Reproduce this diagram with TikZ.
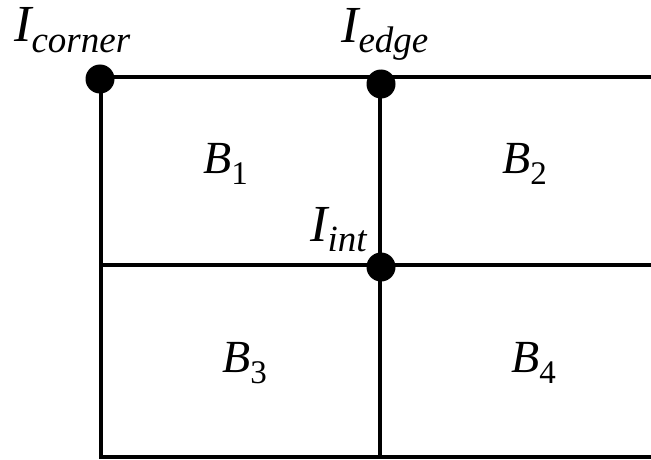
\documentclass[tikz,border=0pt]{standalone}
\usepackage{fontspec}
\setmainfont{Liberation Serif}
\usetikzlibrary{positioning}

\newcommand{\Ilbl}[1]{{\fontsize{52}{52}\selectfont\itshape I}\raisebox{-10pt}{\fontsize{37}{37}\selectfont\itshape #1}}
\newcommand{\Blbl}[1]{{\fontsize{46}{46}\selectfont\itshape B}\raisebox{-11pt}{\fontsize{33}{33}\selectfont #1}}

\begin{document}
\begin{tikzpicture}[
    x=1pt, y=-1pt,
    grid/.style={line width=4.5pt},
    dot/.style={circle, fill=black, inner sep=0pt, minimum size=29pt},
    lbl/.style={inner sep=0pt, anchor=base west}
]
    \useasboundingbox (0,0) rectangle (651,460);
    % grid corners
    \coordinate (tl) at (101,77);
    \coordinate (tm) at (380,77);
    \coordinate (tr) at (653,77);
    \coordinate (ml) at (101,265);
    \coordinate (mm) at (380,265);
    \coordinate (mr) at (653,265);
    \coordinate (bl) at (101,457);
    \coordinate (bm) at (380,457);
    \coordinate (br) at (653,457);
    \draw[grid] (tr) -- (tl) -- (bl) -- (br);
    \draw[grid] (ml) -- (mr);
    \draw[grid] (tm) -- (bm);
    % intersections
    \node[dot] (corner) at (100,79) {};
    \node[dot] (edge) at (381,84) {};
    \node[dot] (int) at (381,267) {};
    % labels
    \node[lbl] (Icorner) at (14,42) {\Ilbl{corner}};
    \node[lbl] (Iedge) at (341,43) {\Ilbl{edge}};
    \node[lbl] (Iint) at (310,241) {\Ilbl{int}};
    \node[lbl] (B1) at (203,173) {\Blbl{1}};
    \node[lbl] (B2) at (502,173) {\Blbl{2}};
    \node[lbl] (B3) at (222,372) {\Blbl{3}};
    \node[lbl] (B4) at (511,372) {\Blbl{4}};
\end{tikzpicture}
\end{document}
